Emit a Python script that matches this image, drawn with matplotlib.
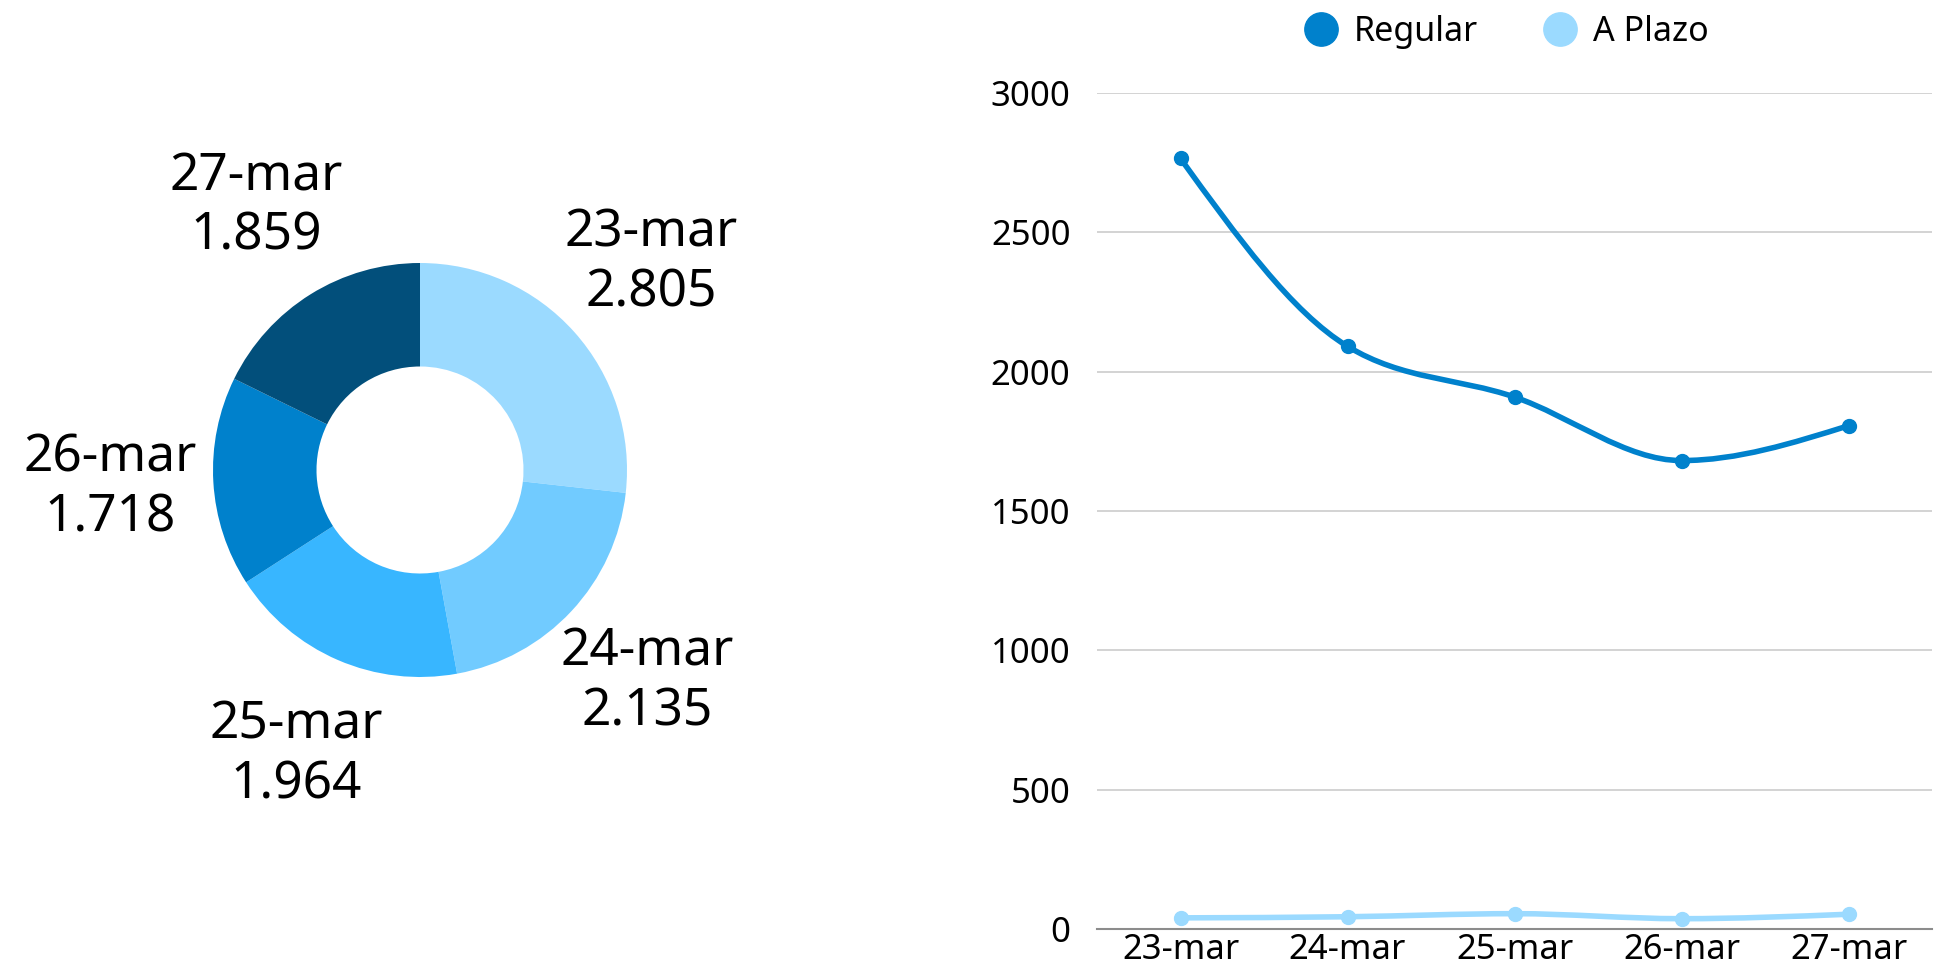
import numpy as np
import matplotlib
matplotlib.use("Agg")
import matplotlib.pyplot as plt
from matplotlib.path import Path
from matplotlib.patches import PathPatch
from matplotlib.lines import Line2D

plt.rcParams['font.family'] = ['Noto Sans', 'DejaVu Sans']

# data
dates = ["23-mar", "24-mar", "25-mar", "26-mar", "27-mar"]
regular = [2765, 2091, 1909, 1681, 1806]
a_plazo = [40, 44, 55, 37, 53]
totals = [r + a for r, a in zip(regular, a_plazo)]

pie_colors = ["#9BDAFF", "#71CBFF", "#38B6FF", "#0081CC", "#024F7B"]
c_regular = "#0081CC"
c_plazo = "#9BDAFF"


def monotone_path(xs, ys):
    # d3 style monotoneX curve as cubic bezier segments
    xs = np.asarray(xs, float)
    ys = np.asarray(ys, float)
    n = len(xs)
    h = np.diff(xs)
    s = np.diff(ys) / h
    t = np.zeros(n)
    for i in range(1, n - 1):
        p = (s[i - 1] * h[i] + s[i] * h[i - 1]) / (h[i - 1] + h[i])
        t[i] = (np.sign(s[i - 1]) + np.sign(s[i])) * min(abs(s[i - 1]), abs(s[i]), 0.5 * abs(p))
    t[0] = (3 * s[0] - t[1]) / 2
    t[-1] = (3 * s[-1] - t[-2]) / 2
    verts = [(xs[0], ys[0])]
    codes = [Path.MOVETO]
    for i in range(n - 1):
        dx = h[i] / 3
        verts += [(xs[i] + dx, ys[i] + dx * t[i]),
                  (xs[i + 1] - dx, ys[i + 1] - dx * t[i + 1]),
                  (xs[i + 1], ys[i + 1])]
        codes += [Path.CURVE4] * 3
    return Path(verts, codes)


fig = plt.figure(figsize=(19.53, 9.76), dpi=100)

# donut
axp = fig.add_axes([213 / 1953, 1 - 677 / 976, 414 / 1953, 414 / 976])
labels = ["%s\n%s" % (d, f"{v:,}".replace(",", ".")) for d, v in zip(dates, totals)]
wedges, texts = axp.pie(totals, colors=pie_colors, startangle=90, counterclock=False,
                        radius=1.0, wedgeprops=dict(width=0.5, linewidth=0),
                        labels=labels, labeldistance=1.5,
                        textprops=dict(fontsize=37, color="black"))
for t in texts:
    t.set_ha("center")
    t.set_va("center")
    t.set_linespacing(1.22)
axp.set_xlim(-1, 1)
axp.set_ylim(-1, 1)
axp.set_aspect("equal")

# line chart
ax = fig.add_axes([1097 / 1953, 1 - 929 / 976, 835 / 1953, 836 / 976])
x = np.arange(len(dates))
for vals, col in [(regular, c_regular), (a_plazo, c_plazo)]:
    ax.add_patch(PathPatch(monotone_path(x, vals), fill=False, edgecolor=col,
                           lw=4.0, capstyle="round", zorder=3))
    ax.plot(x, vals, "o", color=col, markersize=10, zorder=4)

ax.set_xlim(-0.5, len(dates) - 0.5)
ax.set_ylim(0, 3000)
ax.set_yticks(range(0, 3001, 500))
ax.set_xticks(x)
ax.set_xticklabels(dates)
ax.tick_params(axis="y", length=0, pad=19, labelsize=25)
ax.tick_params(axis="x", length=0, pad=3, labelsize=25)
ax.grid(axis="y", color="#C8C8C8", lw=1.1)
ax.set_axisbelow(True)
for sp in ["top", "right", "left"]:
    ax.spines[sp].set_visible(False)
ax.spines["bottom"].set_color("#8C8C8C")
ax.spines["bottom"].set_linewidth(1.5)
ax.spines["bottom"].set_zorder(2)

handles = [Line2D([], [], ls="none", marker="o", markersize=24, color=c_regular),
           Line2D([], [], ls="none", marker="o", markersize=24, color=c_plazo)]
fig.legend(handles, ["Regular", "A Plazo"], loc="center", bbox_to_anchor=(1506 / 1953, 1 - 32 / 976),
           ncol=2, frameon=False, fontsize=24.5, handlelength=1.0, handletextpad=0.47,
           columnspacing=1.9, borderpad=0)

fig.savefig("out.png", dpi=100)
